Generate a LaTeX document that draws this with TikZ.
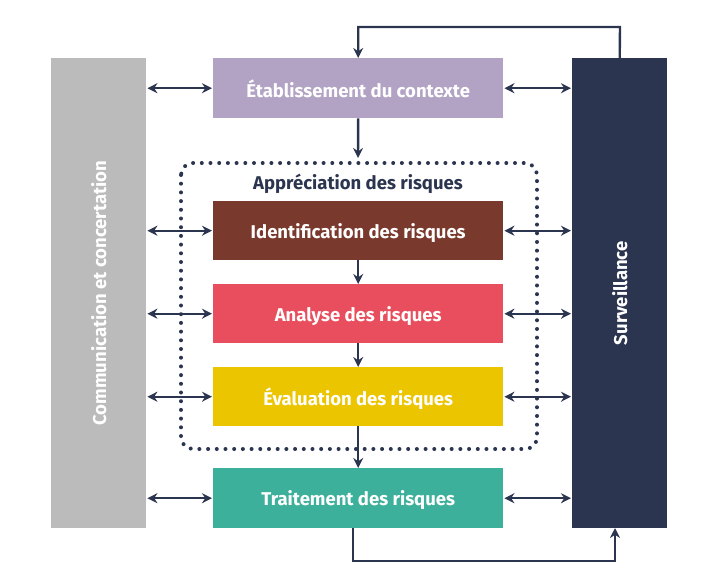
\documentclass[tikz,border=0pt]{standalone}
\usepackage{fontspec}
\setmainfont{Fira Sans}
\usetikzlibrary{arrows.meta,calc}
\definecolor{navy}{HTML}{2B3550}
\definecolor{grayb}{HTML}{BBBBBB}
\definecolor{etabc}{HTML}{B2A3C4}
\definecolor{identc}{HTML}{793A2D}
\definecolor{analc}{HTML}{E84E5D}
\definecolor{evalc}{HTML}{EBC500}
\definecolor{traitc}{HTML}{3DB09B}
\begin{document}
\begin{tikzpicture}[x=1pt,y=-1pt,
  txt/.style={font=\fontsize{18.5}{22}\selectfont\bfseries},
  box/.style={rectangle, minimum width=290pt, minimum height=60pt, inner sep=0pt,
    text=white, txt, anchor=north west, text depth=0pt, yshift=0pt},
  bar/.style={rectangle, minimum width=95pt, minimum height=470pt, inner sep=0pt, anchor=north west},
  barlabel/.style={text=white, txt, rotate=90},
  dbl/.style={{Stealth[length=10pt,width=10pt]}-{Stealth[length=10pt,width=10pt]}, draw=navy, line width=2.4pt, shorten <=1pt, shorten >=1pt},
  arr/.style={-{Stealth[length=10pt,width=10pt]}, draw=navy, line width=2.4pt},
  dotbox/.style={draw=navy, line width=4pt, line cap=round, dash pattern=on 0pt off 8.7pt, rounded corners=12pt}
]
\useasboundingbox (0,0) rectangle (707,582);

% side bars
\node[bar, fill=grayb] (comm) at (51,58) {};
\node[bar, fill=navy] (surv) at (572,58) {};
\node[barlabel] at (comm.center) {Communication et concertation};
\node[barlabel] at (surv.center) {Surveillance};

% dotted box
\draw[dotbox] (181,163) rectangle (537,449);
\node[text=navy, txt] (appr) at (358,184) {Appréciation des risques};

% center boxes
\node[box, fill=etabc] (etab) at (213,58) {Établissement du contexte};
\node[box, fill=identc, minimum height=59pt] (ident) at (213,201) {Identification des risques};
\node[box, fill=analc, minimum height=59pt] (anal) at (213,284) {Analyse des risques};
\node[box, fill=evalc, minimum height=59pt] (eval) at (213,367) {Évaluation des risques};
\node[box, fill=traitc] (trait) at (213,468) {Traitement des risques};

% horizontal double arrows
\foreach \n in {etab,ident,anal,eval,trait}{
  \draw[dbl] (comm.east |- \n.west) -- (\n.west);
  \draw[dbl] (\n.east) -- (surv.west |- \n.east);
}

% vertical arrows
\coordinate (apprtop) at (358,158);
\draw[arr] (etab.south) -- (apprtop);
\draw[arr] (ident.south) -- (anal.north);
\draw[arr] (anal.south) -- (eval.north);
\draw[arr] (eval.south) -- (trait.north);

% feedback loops
\coordinate (topy) at (620,27);
\draw[arr] (surv.north) -- (topy) -| (etab.north);
\coordinate (bstart) at (353,528);
\coordinate (bcorner) at (615,561);
\coordinate (bend) at (615,528);
\draw[arr] (bstart) |- (bcorner) -- (bend);
\end{tikzpicture}
\end{document}
